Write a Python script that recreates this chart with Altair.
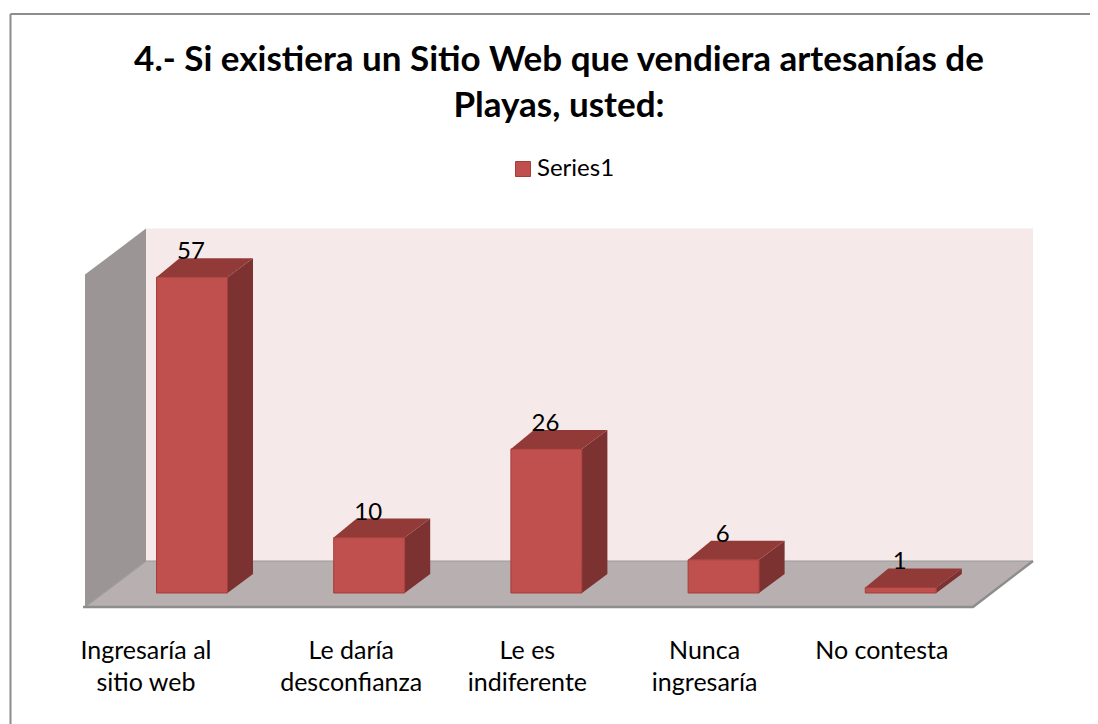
import altair as alt
import pandas as pd

CATEGORIES = ["Ingresaría al\nsitio web", "Le daría\ndesconfianza", "Le es\nindiferente",
              "Nunca\ningresaría", "No contesta"]
VALUES = [57, 10, 26, 6, 1]
SERIES = "Series1"
TITLE_LINES = ["4.- Si existiera un Sitio Web que vendiera artesanías de", "Playas, usted:"]
AXIS_MAX = 60

# layout (pixels of the canvas)
W, H = 1082, 716
CAT_PX, ORIGIN_X = 177.2, 184      # pixels per category, pixel of category 0
VAL_PX, ORIGIN_Y = 5.54, 599       # pixels per value unit, pixel of floor front edge
FONT = "Lato"
ux = lambda px: px / CAT_PX
uy = lambda px: px / VAL_PX

X = alt.Scale(domain=[-ORIGIN_X / CAT_PX, (W - ORIGIN_X) / CAT_PX], nice=False, zero=False)
Y = alt.Scale(domain=[-(H - ORIGIN_Y) / VAL_PX, ORIGIN_Y / VAL_PX], nice=False, zero=False)
def xe(f="x"): return alt.X(f"{f}:Q", scale=X, axis=None, title=None)
def ye(f="y"): return alt.Y(f"{f}:Q", scale=Y, axis=None, title=None)
x2 = alt.X2("x2:Q"); y2 = alt.Y2("y2:Q")

# room geometry, in category and value units
FL, FR = ux(-107), ux(781)         # floor front corners
BL, BR = ux(-46), ux(841)          # floor back corners
LIFT = uy(46)                      # floor depth seen on screen
BAR_HALF = ux(35.5)
BAR_LIFT, BAR_DEPTH = uy(14), uy(19)
DX_L, DX_R = ux(23), ux(25.5)

back = pd.DataFrame([dict(x=BL, x2=BR, y=LIFT, y2=LIFT + AXIS_MAX)])
left = pd.DataFrame([dict(x=FL, y=0, y2=AXIS_MAX), dict(x=BL, y=LIFT, y2=LIFT + AXIS_MAX)])
floor = pd.DataFrame([dict(y=0, x=FL, x2=FR), dict(y=LIFT, x=BL, x2=BR)])
edge = pd.DataFrame([dict(x=ux(-109), y=0, o=0), dict(x=FR, y=0, o=1), dict(x=BR, y=LIFT, o=2)])
seam = pd.DataFrame([dict(x=FL, y=0, o=0), dict(x=BL, y=LIFT, o=1), dict(x=BR, y=LIFT, o=2)])

front, top, side = [], [], []
for i, v in enumerate(VALUES):
    l, r, b, t = i - BAR_HALF, i + BAR_HALF, BAR_LIFT, BAR_LIFT + v
    front.append(dict(x=l, x2=r, y=b, y2=t, serie=SERIES))
    top += [dict(bar=i, y=t, x=l, x2=r), dict(bar=i, y=t + BAR_DEPTH, x=l + DX_L, x2=r + DX_R)]
    side += [dict(bar=i, x=r, y=b, y2=t), dict(bar=i, x=r + DX_R, y=b + BAR_DEPTH, y2=t + BAR_DEPTH)]
front, top, side = map(pd.DataFrame, (front, top, side))

values_df = pd.DataFrame(dict(x=[i + ux(-1) for i in range(len(VALUES))],
                              y=[BAR_LIFT + v + uy(25) for v in VALUES], t=VALUES))
LABEL_SHIFT = [-46, -18, -19, -19, -19]   # px, category label offset from its bar
labels_df = pd.DataFrame(dict(x=[i + ux(s) for i, s in enumerate(LABEL_SHIFT)],
                              y=[uy(ORIGIN_Y - 631)] * 5, t=CATEGORIES))
FRAME = "#8c8c8c"

layers = [
    alt.Chart(pd.DataFrame([{"a": 1}])).mark_rule(color=FRAME, strokeWidth=2).encode(
        x=alt.value(2.5), y=alt.value(6), y2=alt.value(H)),
    alt.Chart(pd.DataFrame([{"a": 1}])).mark_rule(color=FRAME, strokeWidth=2).encode(
        x=alt.value(2.5), x2=alt.value(W), y=alt.value(6)),
    alt.Chart(back).mark_rect(color="#F5E9E9").encode(x=xe(), x2=x2, y=ye(), y2=y2),
    alt.Chart(left).mark_area(color="#9B9695").encode(x=xe(), y=ye(), y2=y2),
    alt.Chart(floor).mark_area(color="#B8B0B0", orient="horizontal").encode(x=xe(), x2=x2, y=ye()),
    alt.Chart(seam).mark_line(color="#9a9a9a", strokeWidth=1.2).encode(x=xe(), y=ye(), order="o:O"),
    alt.Chart(edge).mark_line(color="#8d8d8d", strokeWidth=2.5).encode(x=xe(), y=ye(), order="o:O"),
    alt.Chart(side).mark_area(color="#7B3230").encode(x=xe(), y=ye(), y2=y2, detail="bar:N"),
    alt.Chart(top).mark_area(color="#923A38", orient="horizontal").encode(x=xe(), x2=x2, y=ye(), detail="bar:N"),
    alt.Chart(front).mark_rect(stroke="#A33E3B", strokeWidth=1).encode(
        x=xe(), x2=x2, y=ye(), y2=y2,
        color=alt.Color("serie:N", scale=alt.Scale(domain=[SERIES], range=["#C0504D"]),
                        legend=alt.Legend(orient="none", legendX=503, legendY=149, title=None,
                                          symbolType="square", symbolSize=225, symbolStrokeColor="#A33E3B",
                                          symbolStrokeWidth=1, labelFont=FONT, labelFontSize=24,
                                          labelColor="#000000", labelOffset=2, padding=0))),
    alt.Chart(values_df).mark_text(font=FONT, fontSize=24, color="#000000", baseline="middle").encode(
        x=xe(), y=ye(), text="t:N"),
    alt.Chart(labels_df).mark_text(font=FONT, fontSize=25, color="#000000", baseline="top",
                                   lineBreak="\n", lineHeight=32).encode(x=xe(), y=ye(), text="t:N"),
]

title = alt.TitleParams(text=TITLE_LINES, font=FONT, fontSize=35, fontWeight="bold", color="#000000",
                        anchor="middle", lineHeight=46, baseline="top", offset=0, dx=10, dy=116)
chart = (alt.layer(*layers)
         .properties(title=title, width=W, height=H, padding=0, autosize="none")
         .configure_view(stroke=None))
chart.save("out.html", embed_options={"renderer": "svg", "actions": False})
